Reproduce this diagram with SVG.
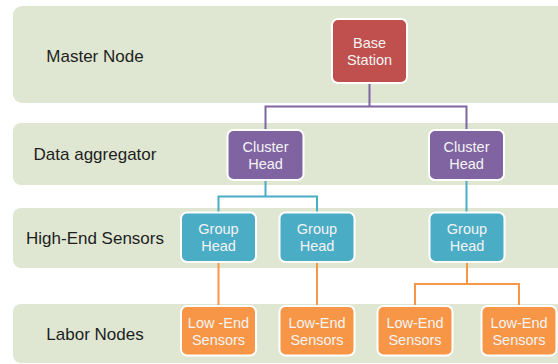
<svg xmlns="http://www.w3.org/2000/svg" width="558" height="364" viewBox="0 0 558 364">
  <style>
    .band { fill: #DFE7D2; }
    .tier { font-family: "Liberation Sans", Arial, sans-serif; font-size: 17px; fill: #1E1E1E; text-anchor: middle; }
    .box { stroke: #FFFFFF; stroke-width: 2; }
    .lbl { font-family: "Liberation Sans", Arial, sans-serif; font-size: 14.5px; fill: #F4F4F4; text-anchor: middle; }
    .red { fill: #C0504D; }
    .purple { fill: #8064A2; }
    .teal { fill: #4BACC6; }
    .orange { fill: #F79646; }
    .wire { fill: none; stroke-width: 2; }
  </style>

  <!-- tier bands -->
  <g id="bands">
    <rect class="band" x="13" y="6" width="580" height="97" rx="9"/>
    <rect class="band" x="13" y="123" width="580" height="62" rx="8"/>
    <rect class="band" x="13" y="208" width="580" height="60" rx="8"/>
    <rect class="band" x="13" y="304" width="580" height="59" rx="8"/>
  </g>

  <!-- tier names -->
  <g id="tier-labels">
    <text class="tier" x="95" y="61.5">Master Node</text>
    <text class="tier" x="95" y="159.5">Data aggregator</text>
    <text class="tier" x="95" y="244">High-End Sensors</text>
    <text class="tier" x="95" y="339.5">Labor Nodes</text>
  </g>

  <!-- connectors -->
  <g id="connectors">
    <path class="wire" stroke="#8064A2" d="M369.5 83 V106.5 M265.5 130 V106.5 H466.5 V130"/>
    <path class="wire" stroke="#4BACC6" d="M265.5 180 V196.5 M218.5 212.5 V196.5 H317 V212.5 M466.5 180 V212.5"/>
    <path class="wire" stroke="#F79646" d="M218.5 262 V306 M317 262 V306 M467 262 V284 M415 306 V284 H519 V306"/>
  </g>

  <!-- nodes -->
  <g id="base-station">
    <rect class="box red" x="332" y="19" width="75" height="64" rx="6"/>
    <text class="lbl" x="369.5" y="47.5">Base<tspan x="369.5" dy="17.5">Station</tspan></text>
  </g>
  <g id="cluster-head-1">
    <rect class="box purple" x="227.5" y="130" width="76" height="50" rx="6"/>
    <text class="lbl" x="265.5" y="152">Cluster<tspan x="265.5" dy="17">Head</tspan></text>
  </g>
  <g id="cluster-head-2">
    <rect class="box purple" x="429" y="130" width="75" height="50" rx="6"/>
    <text class="lbl" x="466.5" y="152">Cluster<tspan x="466.5" dy="17">Head</tspan></text>
  </g>
  <g id="group-head-1">
    <rect class="box teal" x="181" y="212.5" width="75" height="49.5" rx="6"/>
    <text class="lbl" x="218.5" y="234">Group<tspan x="218.5" dy="17">Head</tspan></text>
  </g>
  <g id="group-head-2">
    <rect class="box teal" x="279.5" y="212.5" width="75" height="49.5" rx="6"/>
    <text class="lbl" x="317" y="234">Group<tspan x="317" dy="17">Head</tspan></text>
  </g>
  <g id="group-head-3">
    <rect class="box teal" x="429.5" y="212.5" width="75" height="49.5" rx="6"/>
    <text class="lbl" x="467" y="234">Group<tspan x="467" dy="17">Head</tspan></text>
  </g>
  <g id="low-end-1">
    <rect class="box orange" x="181" y="306" width="75" height="49.5" rx="6"/>
    <text class="lbl" x="218.5" y="328">Low -End<tspan x="218.5" dy="17">Sensors</tspan></text>
  </g>
  <g id="low-end-2">
    <rect class="box orange" x="279.5" y="306" width="75" height="49.5" rx="6"/>
    <text class="lbl" x="317" y="328">Low-End<tspan x="317" dy="17">Sensors</tspan></text>
  </g>
  <g id="low-end-3">
    <rect class="box orange" x="377.5" y="306" width="75" height="49.5" rx="6"/>
    <text class="lbl" x="415" y="328">Low-End<tspan x="415" dy="17">Sensors</tspan></text>
  </g>
  <g id="low-end-4">
    <rect class="box orange" x="481.5" y="306" width="75" height="49.5" rx="6"/>
    <text class="lbl" x="519" y="328">Low-End<tspan x="519" dy="17">Sensors</tspan></text>
  </g>
</svg>
